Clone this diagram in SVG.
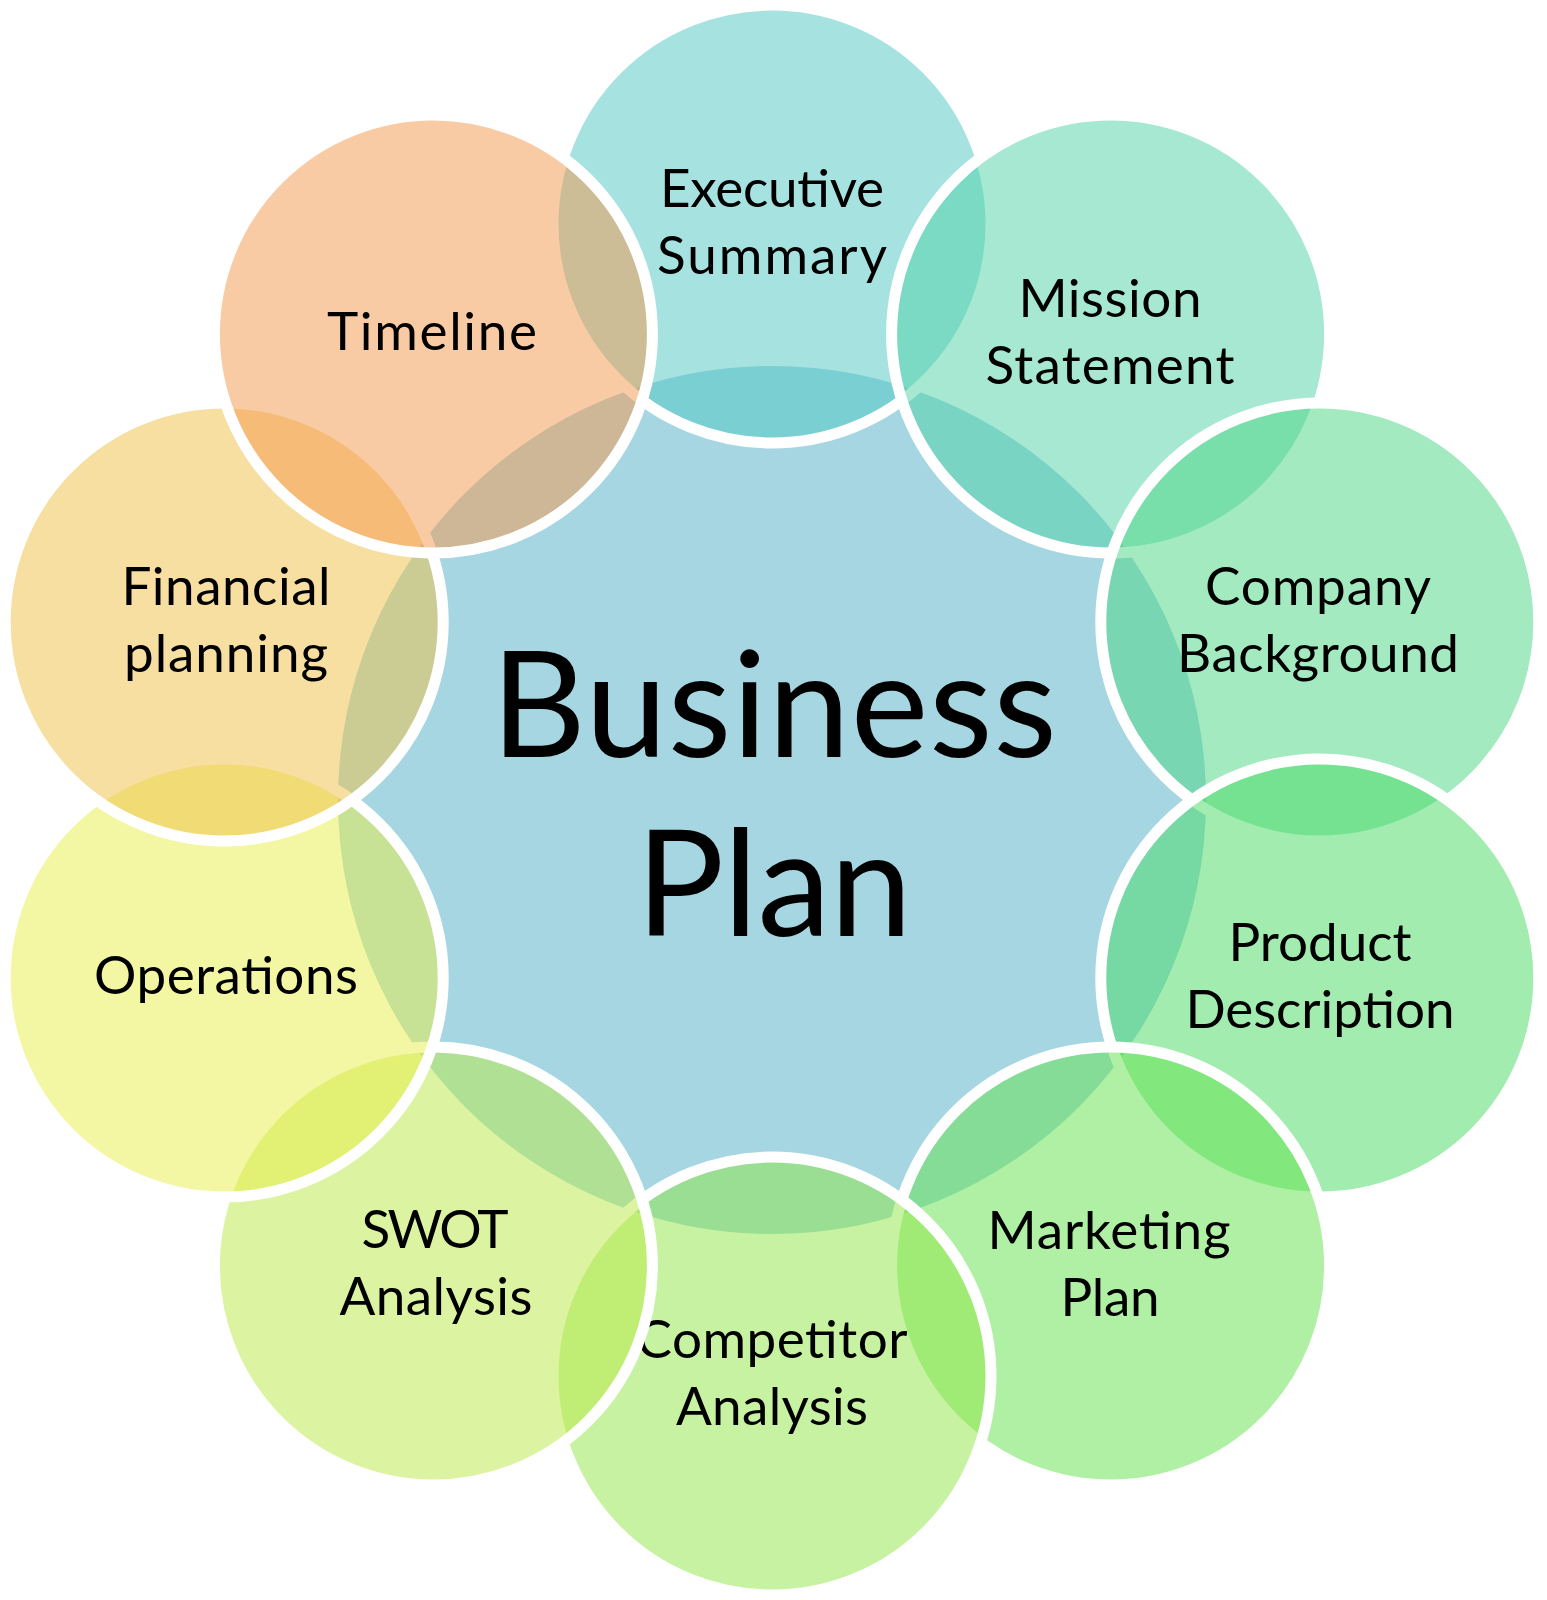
<svg xmlns="http://www.w3.org/2000/svg" width="1547" height="1600" viewBox="0 0 1547 1600">
<style>
.bg{fill:#ffffff}
.hub{fill:#a6d6e2}
.ring{stroke:#ffffff;stroke-width:11;fill-opacity:0.5}
.lbl{font-family:Lato,"Open Sans","Liberation Sans",sans-serif;font-size:53px;fill:#000000;text-anchor:middle}
.title{font-family:Lato,"Open Sans","Liberation Sans",sans-serif;font-size:147px;fill:#000000;text-anchor:middle}
</style>
<rect class="bg" x="0" y="0" width="1547" height="1600"/>
<g id="center">
  <circle class="hub" cx="772" cy="800" r="434"/>
  <text class="title" x="774" y="757" textLength="566">Business</text>
  <text class="title" x="774" y="936" textLength="276">Plan</text>
</g>
<g id="node-executive-summary">
  <circle class="ring" cx="772" cy="224" r="219" fill="#4dc7c1"/>
  <text class="lbl" x="772" y="207" textLength="224">Executive</text>
  <text class="lbl" x="772" y="274" textLength="230">Summary</text>
</g>
<g id="node-mission-statement">
  <circle class="ring" cx="1110.6" cy="334" r="219" fill="#4dd1a5"/>
  <text class="lbl" x="1110" y="317" textLength="183">Mission</text>
  <text class="lbl" x="1110" y="384" textLength="249">Statement</text>
</g>
<g id="node-company-background">
  <circle class="ring" cx="1319.8" cy="622" r="219" fill="#49d581"/>
  <text class="lbl" x="1318" y="605" textLength="226">Company</text>
  <text class="lbl" x="1318" y="672" textLength="282">Background</text>
</g>
<g id="node-product-description">
  <circle class="ring" cx="1319.8" cy="978" r="219" fill="#45d961"/>
  <text class="lbl" x="1320" y="961" textLength="183">Product</text>
  <text class="lbl" x="1320" y="1028" textLength="269">Description</text>
</g>
<g id="node-marketing-plan">
  <circle class="ring" cx="1110.6" cy="1266" r="219" fill="#61e149"/>
  <text class="lbl" x="1109" y="1249" textLength="243">Marketing</text>
  <text class="lbl" x="1110" y="1316" textLength="99">Plan</text>
</g>
<g id="node-competitor-analysis">
  <circle class="ring" cx="772" cy="1376" r="219" fill="#8de545"/>
  <text class="lbl" x="772" y="1358" textLength="271">Competitor</text>
  <text class="lbl" x="772" y="1425" textLength="192">Analysis</text>
</g>
<g id="node-swot-analysis">
  <circle class="ring" cx="433.4" cy="1266" r="219" fill="#b9e945"/>
  <text class="lbl" x="435" y="1248" textLength="147">SWOT</text>
  <text class="lbl" x="436" y="1315" textLength="193">Analysis</text>
</g>
<g id="node-operations">
  <circle class="ring" cx="224.2" cy="978" r="219" fill="#e7ed45"/>
  <text class="lbl" x="226" y="994" textLength="264">Operations</text>
</g>
<g id="node-financial-planning">
  <circle class="ring" cx="224.2" cy="622" r="219" fill="#efbf45"/>
  <text class="lbl" x="226" y="605" textLength="209">Financial</text>
  <text class="lbl" x="226" y="672" textLength="204">planning</text>
</g>
<g id="node-timeline">
  <circle class="ring" cx="433.4" cy="334" r="219" fill="#f3974b"/>
  <text class="lbl" x="432" y="350" textLength="210">Timeline</text>
</g>
</svg>
